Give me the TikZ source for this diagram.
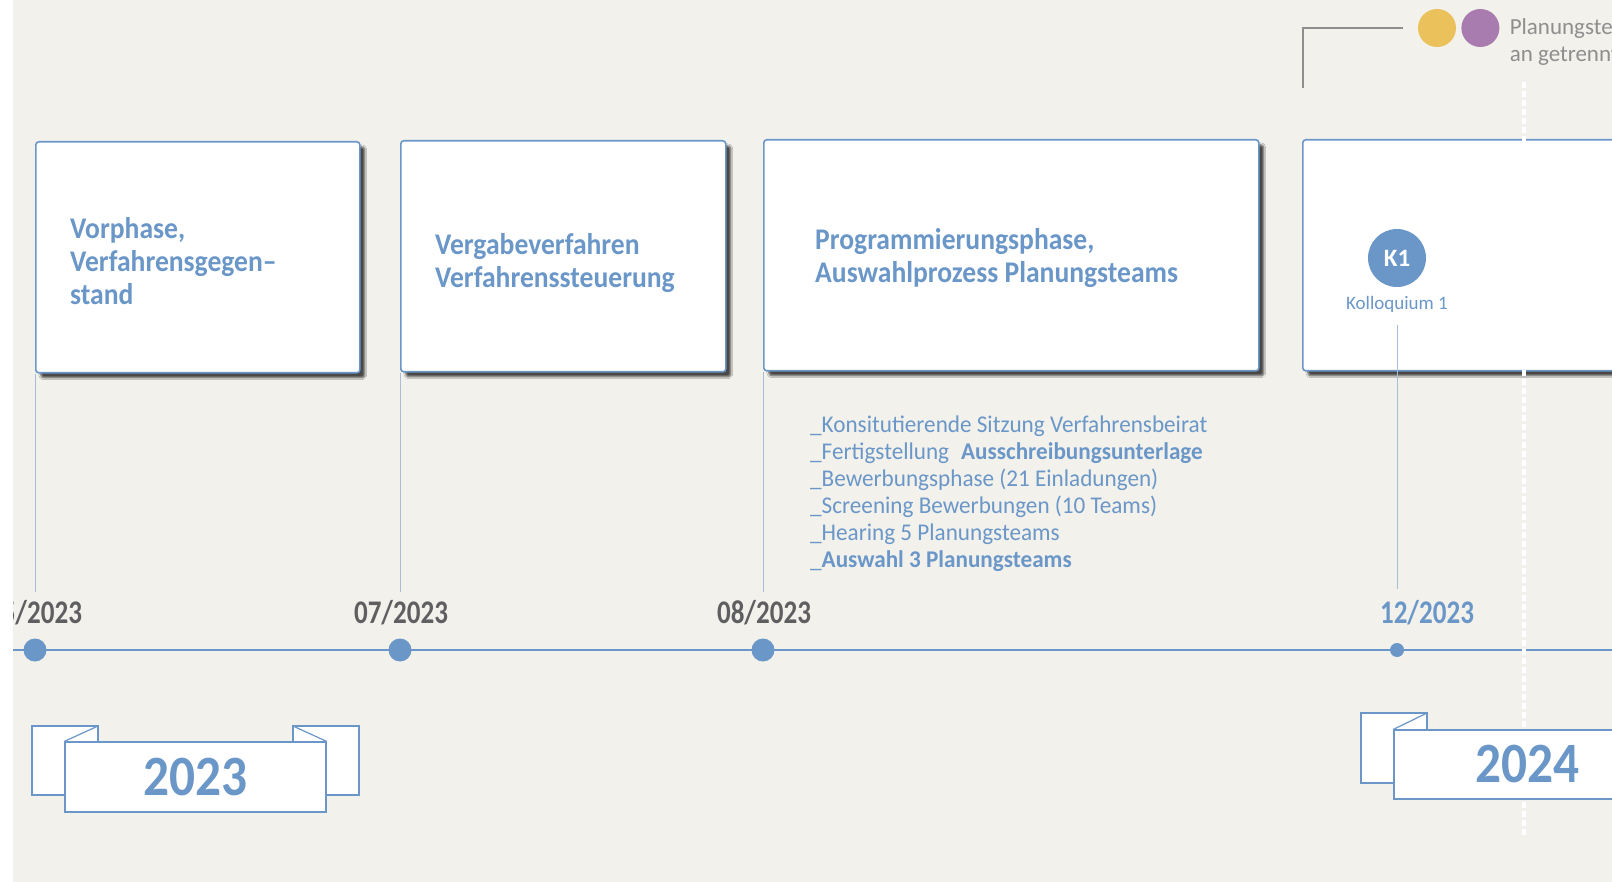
\documentclass[tikz,border=0pt]{standalone}
\usepackage{fontspec}
\setmainfont{Carlito}
\newfontfamily\narrowfont[FakeStretch=0.82]{Carlito}
\newfontfamily\titlefont[FakeStretch=0.92]{Carlito}
\newfontfamily\yearfont[FakeStretch=0.9]{Carlito}
\newfontfamily\listfont[FakeStretch=0.965]{Carlito}
\usetikzlibrary{positioning,shadows.blur}
\definecolor{bggray}{HTML}{F2F1EC}
\definecolor{tlblue}{HTML}{6A97C8}
\definecolor{thinblue}{HTML}{A9BDD8}
\definecolor{dategray}{HTML}{5F5F61}
\definecolor{leggray}{HTML}{8E8E8E}
\definecolor{kyellow}{HTML}{EBC15C}
\definecolor{kpurple}{HTML}{A87CAF}

\begin{document}
\begin{tikzpicture}[x=1pt,y=-1pt,
  phase/.style={draw=tlblue,line width=1.6pt,fill=white,rounded corners=3pt,anchor=north west,
    inner sep=0pt,minimum height=231pt,
    blur shadow={shadow xshift=5pt,shadow yshift=-5pt,shadow blur steps=6,shadow opacity=70}},
  ttl/.style={anchor=west,align=left,text=tlblue,font=\titlefont\bfseries\fontsize{30}{33}\selectfont,inner sep=0pt},
  tick/.style={draw=thinblue,line width=0.9pt},
  tline/.style={draw=tlblue,line width=2.4pt},
  bigdot/.style={circle,fill=tlblue,minimum size=23pt,inner sep=0pt},
  smalldot/.style={circle,fill=tlblue,minimum size=14pt,inner sep=0pt},
  datum/.style={text=dategray,font=\narrowfont\bfseries\fontsize{33}{36}\selectfont,inner sep=0pt},
  items/.style={anchor=west,align=left,text=tlblue,font=\listfont\fontsize{24}{27}\selectfont,inner sep=0pt},
  ribbon/.style={draw=tlblue,fill=white,line width=1.2pt},
  yearband/.style={ribbon,inner sep=0pt,text=tlblue,font=\yearfont\bfseries\fontsize{57}{60}\selectfont},
  sep/.style={draw=white,line width=3.5pt,dash pattern=on 6pt off 3pt}]

\useasboundingbox (0,0) rectangle (1612,882);
\fill[white] (0,0) rectangle (1612,882);
\clip (13,0) rectangle (1612,882);
\fill[bggray] (13,0) rectangle (1612,882);

% legend
\node[circle,fill=kyellow,minimum size=38pt,inner sep=0pt] (yc) at (1437,28) {};
\node[circle,fill=kpurple,minimum size=38pt,inner sep=0pt,right=5pt of yc] (pc) {};
\node[anchor=west,align=left,text=leggray,font=\fontsize{23}{27}\selectfont,inner sep=0pt,right=10pt of pc,yshift=-13.5pt] (lt)
  {Planungsteams\\an getrennten};
\coordinate (lg) at (1303,88);
\draw[leggray,line width=1.5pt] (lg) |- ([xshift=-15pt]yc.west);

% phases
\node[phase,minimum width=324pt] (b1) at (35,141) {};
\node[phase,minimum width=325pt] (b2) at (400,140) {};
\node[phase,minimum width=495pt] (b3) at (763,139) {};
\node[phase,minimum width=400pt] (b4) at (1302,139) {};

\node[ttl,right=35pt of b1.west,yshift=-4pt] (t1) {Vorphase,\\Verfahrensgegen–\\stand};
\node[ttl,right=35pt of b2.west,yshift=-7pt] (t2) {Vergabeverfahren\\Verfahrenssteuerung};
\node[ttl,right=52pt of b3.west,yshift=-3pt] (t3) {Programmierungsphase,\\Auswahlprozess Planungsteams};

\node[circle,fill=tlblue,minimum size=58pt,inner sep=0pt,text=white,font=\bfseries\fontsize{25}{25}\selectfont] (k1) at (1397,258) {K1};
\node[text=tlblue,font=\fontsize{19}{21}\selectfont,inner sep=0pt] (kol) at (1397,304) {Kolloquium 1};

\node[items] (list) at (810,494) {\_Konsitutierende Sitzung Verfahrensbeirat\\
  \_Fertigstellung\hspace{12pt}\textbf{Ausschreibungsunterlage}\\
  \_Bewerbungsphase (21 Einladungen)\\
  \_Screening Bewerbungen (10 Teams)\\
  \_Hearing 5 Planungsteams\\
  \_\textbf{Auswahl 3 Planungsteams}};

% timeline
\coordinate (tl-a) at (13,650);
\coordinate (tl-b) at (1612,650);
\draw[tline] (tl-a) -- (tl-b);

\node[bigdot] (p1) at (35,650) {};
\node[bigdot] (p2) at (400,650) {};
\node[bigdot] (p3) at (763,650) {};
\node[smalldot] (p4) at (1397,650) {};

\node[datum] (d1) at (35,613) {05/2023};
\node[datum] (d2) at (401,613) {07/2023};
\node[datum] (d3) at (764,613) {08/2023};
\node[datum,text=tlblue] (d4) at (1427,613) {12/2023};

\coordinate (e1) at (35,592);
\coordinate (e2) at (400,592);
\coordinate (e3) at (763,592);
\coordinate (kt) at (1397,325);
\coordinate (e4) at (1397,589);
\draw[tick] (b1.south west) -- (e1);
\draw[tick] (b2.south west) -- (e2);
\draw[tick] (b3.south west) -- (e3);
\draw[tick] (kt) -- (e4);

% year change
\coordinate (sep-a) at (1524,82);
\coordinate (sep-b) at (1524,835);
\draw[sep] (sep-a) -- (sep-b);

% ribbons
\draw[ribbon] (32,726) rectangle (98,795);
\draw[ribbon] (293,726) rectangle (359,795);
\node[yearband,minimum width=261pt,minimum height=70pt] (y23) at (195.5,777) {2023};
\draw[ribbon] (98,726) -- (y23.north west);
\draw[ribbon] (293,726) -- (y23.north east);

\draw[ribbon] (1361,713) rectangle (1427,783);
\node[yearband,minimum width=266pt,minimum height=69pt] (y24) at (1527,764.5) {2024};
\draw[ribbon] (1427,713) -- (y24.north west);
\end{tikzpicture}
\end{document}
